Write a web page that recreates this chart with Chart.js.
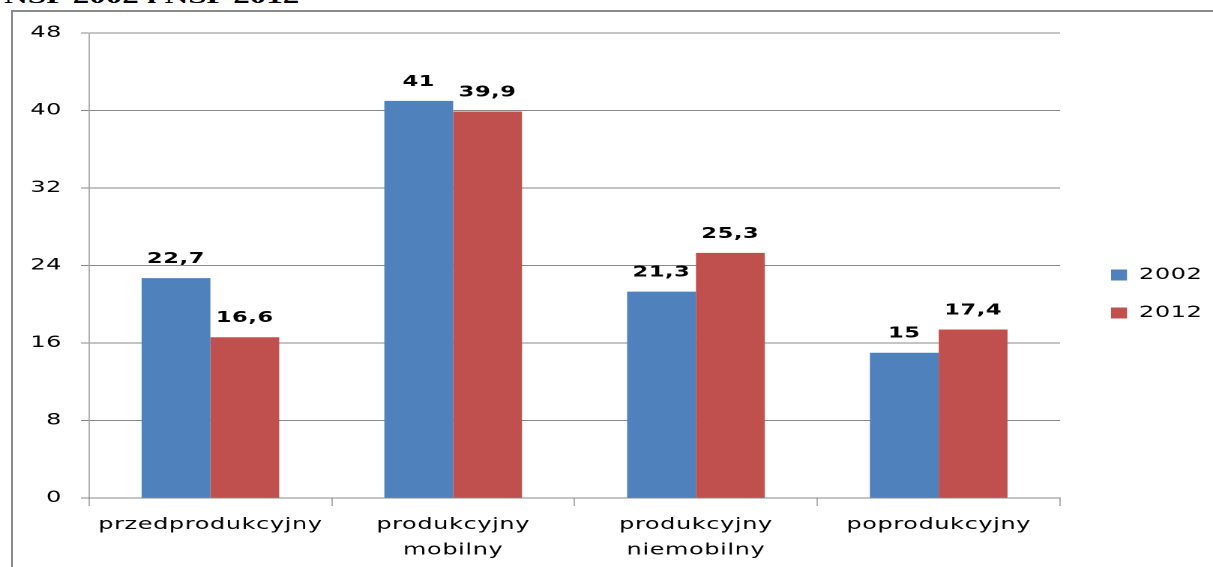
<!DOCTYPE html>
<html>
<head>
<meta charset="utf-8">
<script src="https://cdn.jsdelivr.net/npm/chart.js@4.4.1/dist/chart.umd.min.js"></script>
<style>
  html, body { margin: 0; padding: 0; background: #fff; overflow: hidden; }
  #wrap { position: relative; width: 1213px; height: 567px; overflow: hidden; background: #fff; }
  #title { position: absolute; left: 4px; top: -15px; width: 210px; font: bold 22px "Liberation Serif", "Times New Roman", serif; line-height: 22px; color: #000; white-space: nowrap; transform: scaleX(1.5); transform-origin: 0 0; }
  #frameTop { position: absolute; left: 11px; top: 10px; width: 1202px; height: 2px; background: #8c8c8c; z-index: 3; }
  #frameLeft { position: absolute; left: 11px; top: 10px; width: 2px; height: 557px; background: #8c8c8c; z-index: 3; }
  #edge { position: absolute; left: 1206px; top: 0; width: 7px; height: 567px; background: #fff; z-index: 2; }
  #c { position: absolute; left: 0; top: 0; transform-origin: 0 0; z-index: 1; }
</style>
</head>
<body>
<div id="wrap">
  <div id="title">NSP 2002 i NSP 2012</div>
  <canvas id="c" width="809" height="567"></canvas>
  <div id="edge"></div>
  <div id="frameTop"></div>
  <div id="frameLeft"></div>
</div>
<script>
const categories = ["przedprodukcyjny", ["produkcyjny", "mobilny"], ["produkcyjny", "niemobilny"], "poprodukcyjny"];
const seriesNames = ["2002", "2012"];
const values2002 = [22.7, 41, 21.3, 15];
const values2012 = [16.6, 39.9, 25.3, 17.4];
const yTicks = [0, 8, 16, 24, 32, 40, 48];

const FONT = '"DejaVu Sans", Verdana, sans-serif';
const K = 1213 / 809; // horizontal stretch of the whole chart
const SPACING = '0.4px';
const cv = document.getElementById('c');

const textSpacing = {
  id: 'textSpacing',
  beforeLayout(chart) { chart.ctx.letterSpacing = SPACING; },
  beforeDraw(chart) { chart.ctx.letterSpacing = SPACING; }
};

const legendPlace = {
  id: 'legendPlace',
  afterLayout(chart) {
    const lg = chart.legend;
    if (!lg) return;
    const w = lg.width;
    lg.left = 1111 / K - 22;
    lg.right = lg.left + w;
    lg.top -= 6; lg.bottom -= 6;
  }
};

const valueLabels = {
  id: 'valueLabels',
  afterDatasetsDraw(chart) {
    const ctx = chart.ctx;
    ctx.save();
    ctx.font = 'bold 15px ' + FONT;
    ctx.fillStyle = '#000';
    ctx.textAlign = 'center';
    ctx.textBaseline = 'alphabetic';
    chart.data.datasets.forEach((ds, di) => {
      const meta = chart.getDatasetMeta(di);
      meta.data.forEach((bar, i) => {
        const txt = String(ds.data[i]).replace('.', ',');
        ctx.fillText(txt, bar.x, bar.y - 15);
      });
    });
    ctx.restore();
  }
};

new Chart(cv, {
  type: 'bar',
  data: {
    labels: categories,
    datasets: [
      { label: seriesNames[0], data: values2002, backgroundColor: '#4F81BD', categoryPercentage: 0.567, barPercentage: 1.0 },
      { label: seriesNames[1], data: values2012, backgroundColor: '#C0504D', categoryPercentage: 0.567, barPercentage: 1.0 }
    ]
  },
  options: {
    responsive: false,
    animation: false,
    devicePixelRatio: 2,
    layout: { padding: { top: 33, left: 0, right: 9, bottom: 0 } },
    plugins: {
      legend: {
        position: 'right',
        align: 'center',
        labels: {
          boxWidth: 16 / K, boxHeight: 11, padding: 22,
          color: '#000',
          font: { family: FONT, size: 16 }
        }
      },
      tooltip: { enabled: false }
    },
    scales: {
      x: {
        afterFit(s) { s.height = 69; },
        grid: { offset: true, drawOnChartArea: false, drawTicks: true, tickLength: 8, color: '#888', lineWidth: 1 / K },
        border: { display: true, color: '#888', width: 1 },
        ticks: { color: '#000', padding: 6, maxRotation: 0, autoSkip: false, font: { family: FONT, size: 16, lineHeight: 1.6 } }
      },
      y: {
        min: 0, max: 48,
        afterFit(s) { s.width = 89 / K; },
        afterBuildTicks(s) { s.ticks = yTicks.map(v => ({ value: v })); },
        grid: { color: '#888', tickLength: 8 / K, drawTicks: true },
        border: { display: true, color: '#888', width: 1 / K },
        ticks: { color: '#000', padding: 19 / K, font: { family: FONT, size: 16 } }
      }
    }
  },
  plugins: [textSpacing, legendPlace, valueLabels]
});
cv.style.transform = 'scaleX(' + K + ')';
</script>
</body>
</html>
